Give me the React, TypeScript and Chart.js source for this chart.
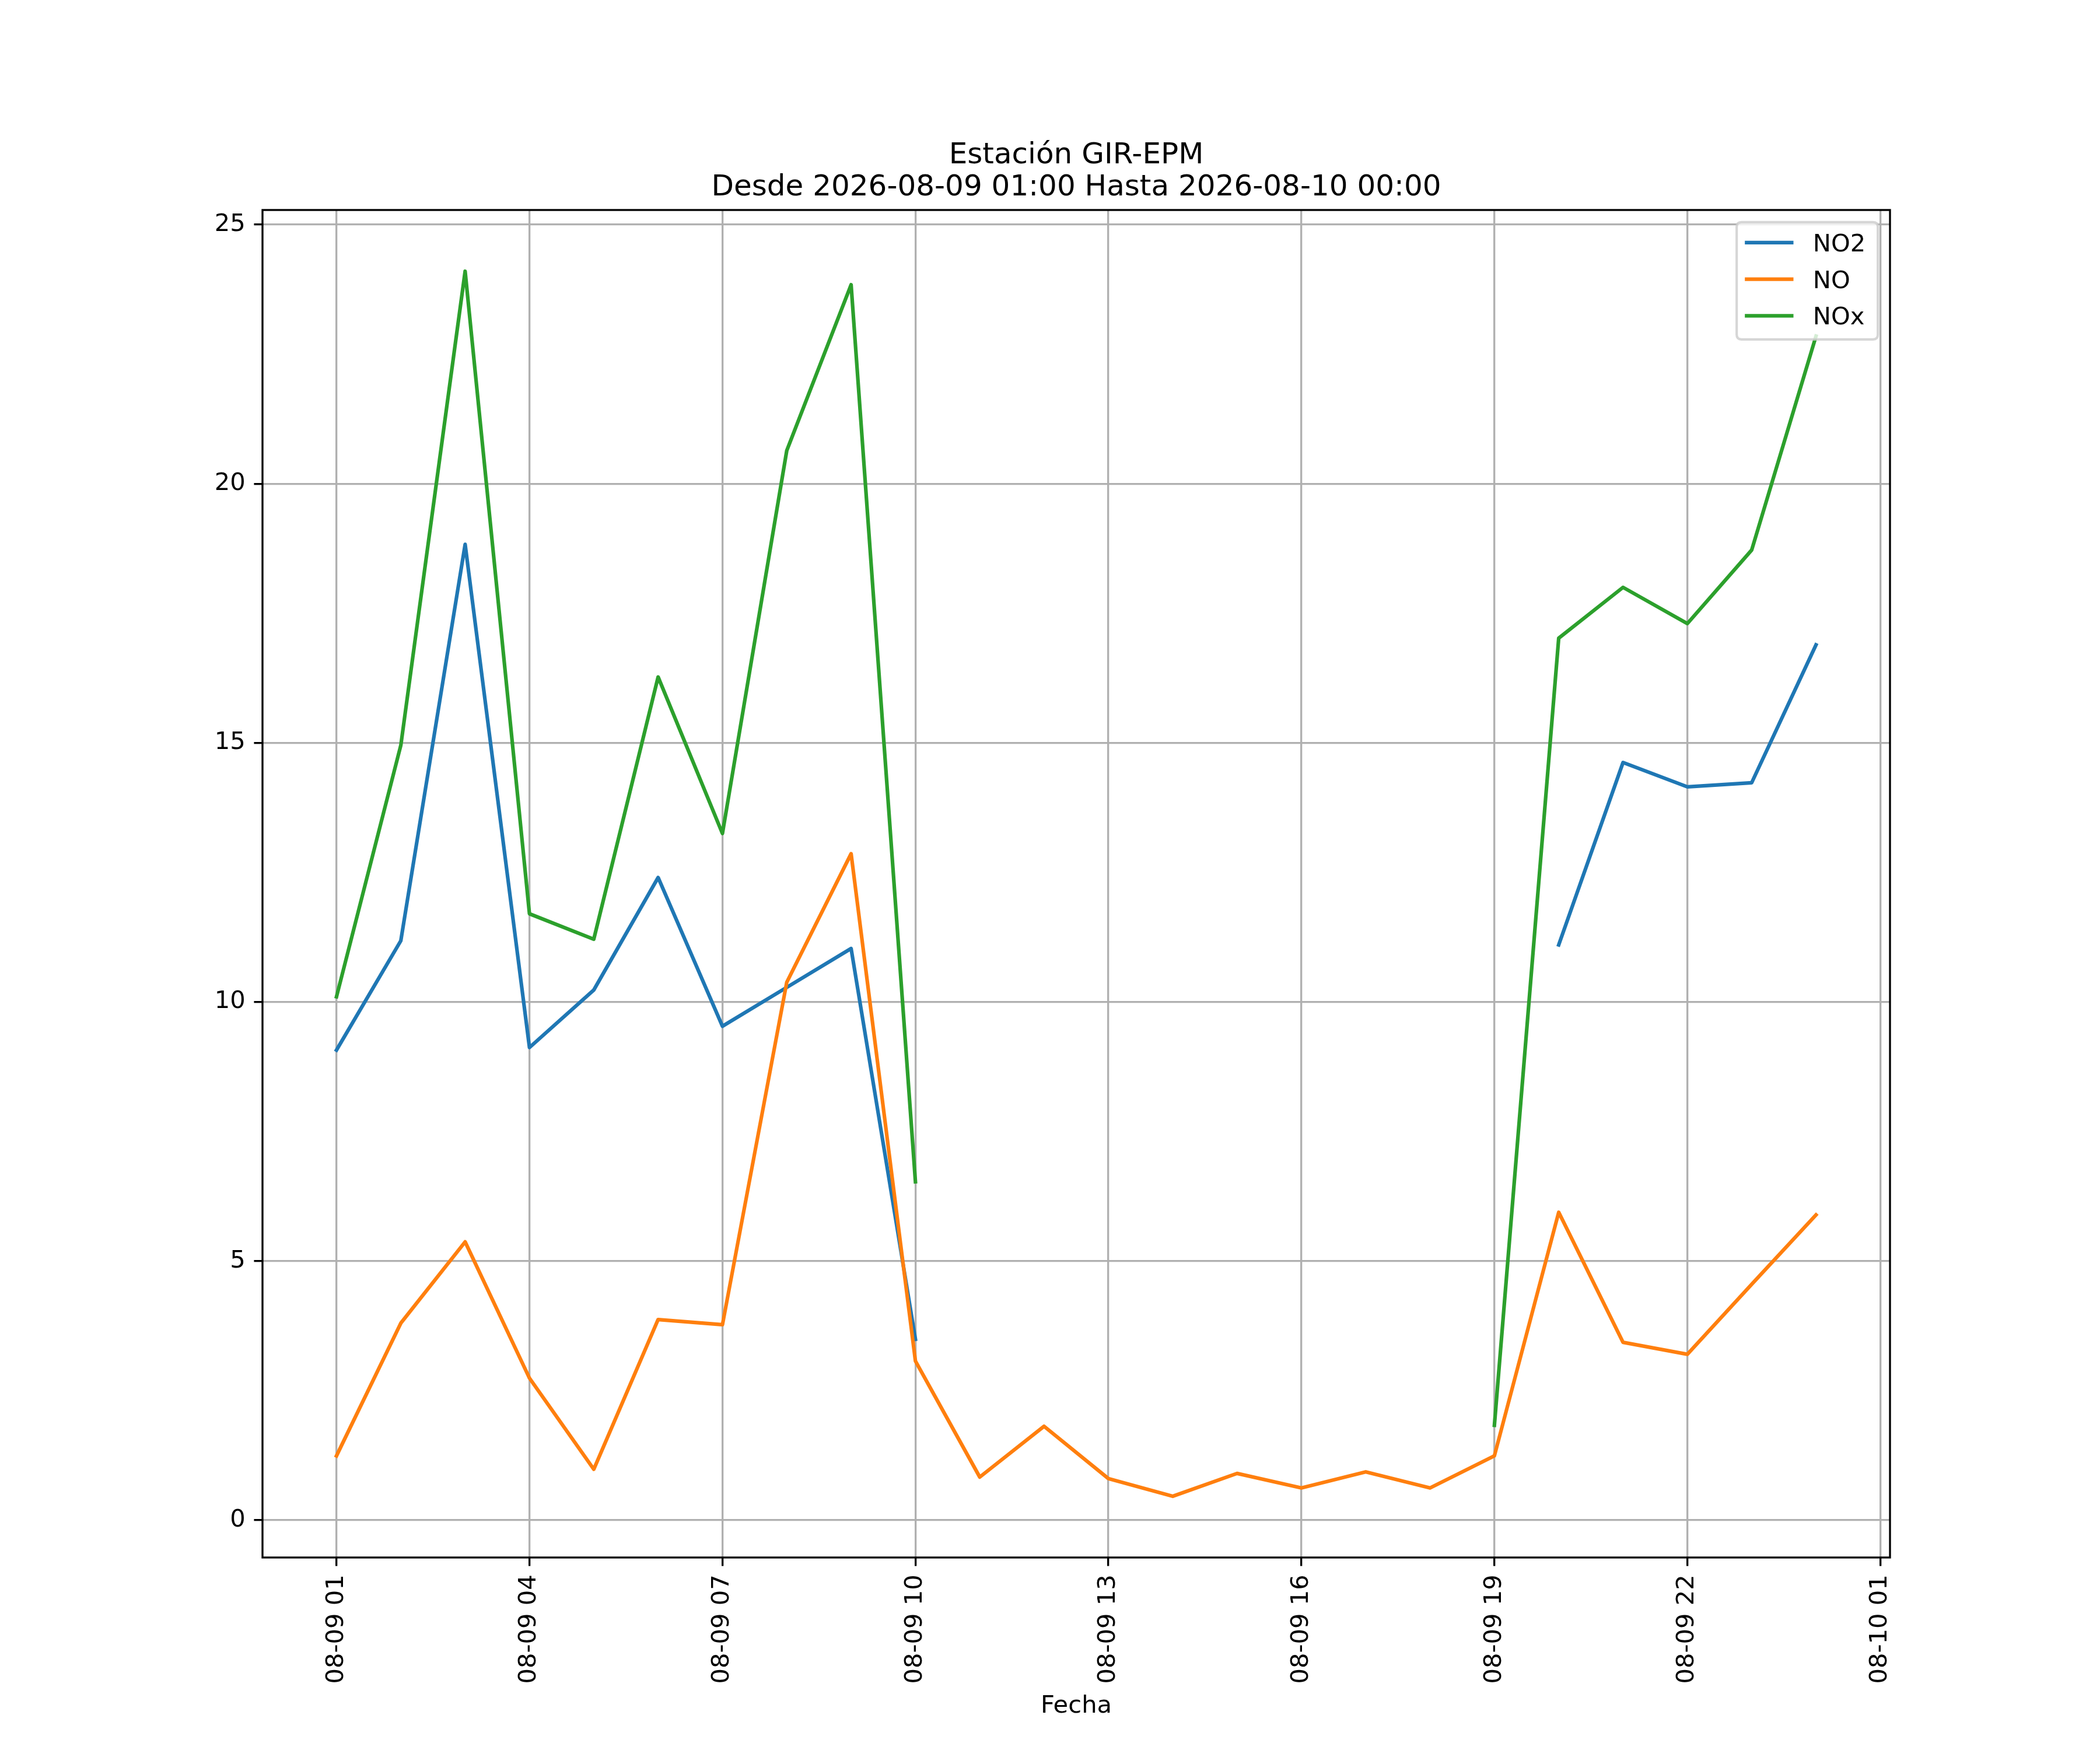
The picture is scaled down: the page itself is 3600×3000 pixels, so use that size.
import React, { useEffect, useRef } from 'react';
import { Chart, registerables } from 'chart.js';

Chart.register(...registerables);

// hourly readings, 2026-08-09 01:00 .. 2026-08-10 00:00
const hours = [
  '08-09 01', '08-09 02', '08-09 03', '08-09 04', '08-09 05', '08-09 06',
  '08-09 07', '08-09 08', '08-09 09', '08-09 10', '08-09 11', '08-09 12',
  '08-09 13', '08-09 14', '08-09 15', '08-09 16', '08-09 17', '08-09 18',
  '08-09 19', '08-09 20', '08-09 21', '08-09 22', '08-09 23', '08-10 00',
];

const no2 = [
  9.07, 11.18, 18.83, 9.12, 10.23, 12.4, 9.53, 10.28, 11.03, 3.49,
  null, null, null, null, null, null, null, null, null,
  11.1, 14.62, 14.15, 14.23, 16.89,
];

const no = [
  1.24, 3.8, 5.37, 2.74, 0.98, 3.87, 3.77, 10.38, 12.86, 3.07,
  0.83, 1.81, 0.8, 0.46, 0.9, 0.62, 0.93, 0.62, 1.24,
  5.94, 3.43, 3.2, 4.55, 5.89,
];

const nox = [
  10.1, 14.95, 24.1, 11.7, 11.21, 16.27, 13.25, 20.64, 23.84, 6.53,
  null, null, null, null, null, null, null, null,
  1.83, 17.02, 18.0, 17.3, 18.72, 22.85,
];

const seriesNames = ['NO2', 'NO', 'NOx'];
const seriesColors = ['#1f77b4', '#ff7f0e', '#2ca02c'];

const xTickValues = [0, 3, 6, 9, 12, 15, 18, 21, 24];
const xTickLabels = [
  '08-09 01', '08-09 04', '08-09 07', '08-09 10', '08-09 13',
  '08-09 16', '08-09 19', '08-09 22', '08-10 01',
];
const yTickValues = [0, 5, 10, 15, 20, 25];

const titleLines = ['Estación GIR-EPM', 'Desde 2026-08-09 01:00 Hasta 2026-08-10 00:00'];
const xTitle = 'Fecha';

// 300 dpi figure: 1pt = 300/72 px
const PT = 300 / 72;
const FONT = 'DejaVu Sans';

const framePlugin = {
  id: 'frame',
  afterDatasetsDraw(chart: any) {
    const { ctx, chartArea: a } = chart;
    ctx.save();
    ctx.strokeStyle = '#000';
    ctx.lineWidth = 0.8 * PT;
    ctx.strokeRect(a.left, a.top, a.right - a.left, a.bottom - a.top);
    ctx.restore();
  },
  afterDraw(chart: any) {
    const { ctx, chartArea: a } = chart;
    ctx.save();
    // title
    ctx.fillStyle = '#000';
    ctx.font = `${12 * PT}px "${FONT}"`;
    ctx.textAlign = 'center';
    ctx.textBaseline = 'alphabetic';
    const cx = (a.left + a.right) / 2;
    ctx.fillText(titleLines[0], cx, a.top - 6 * PT - 55);
    ctx.fillText(titleLines[1], cx, a.top - 6 * PT);

    // legend (upper right)
    const fs = 10 * PT;
    const pad = 0.5 * fs;
    const boxW = 242;
    const boxH = 201;
    const bx = a.right - pad - boxW;
    const by = a.top + pad;
    const r = 0.2 * fs;
    ctx.beginPath();
    ctx.moveTo(bx + r, by);
    ctx.lineTo(bx + boxW - r, by);
    ctx.quadraticCurveTo(bx + boxW, by, bx + boxW, by + r);
    ctx.lineTo(bx + boxW, by + boxH - r);
    ctx.quadraticCurveTo(bx + boxW, by + boxH, bx + boxW - r, by + boxH);
    ctx.lineTo(bx + r, by + boxH);
    ctx.quadraticCurveTo(bx, by + boxH, bx, by + boxH - r);
    ctx.lineTo(bx, by + r);
    ctx.quadraticCurveTo(bx, by, bx + r, by);
    ctx.closePath();
    ctx.fillStyle = 'rgba(255,255,255,0.8)';
    ctx.fill();
    ctx.strokeStyle = 'rgba(204,204,204,0.8)';
    ctx.lineWidth = 1 * PT;
    ctx.stroke();

    ctx.font = `${fs}px "${FONT}"`;
    ctx.textAlign = 'left';
    seriesNames.forEach((name, i) => {
      const y = by + 35 + i * 62.8;
      ctx.strokeStyle = seriesColors[i];
      ctx.lineWidth = 1.5 * PT;
      ctx.beginPath();
      ctx.moveTo(bx + 14, y);
      ctx.lineTo(bx + 14 + 2 * fs, y);
      ctx.stroke();
      ctx.fillStyle = '#000';
      ctx.fillText(name, bx + 14 + 2.8 * fs, y + 15);
    });
    ctx.restore();
  },
};

const App: React.FC = () => {
  const chartRef = useRef<HTMLCanvasElement>(null);
  const chartInstance = useRef<Chart | null>(null);

  useEffect(() => {
    if (!chartRef.current) return;
    if (chartInstance.current) chartInstance.current.destroy();

    const all = [...no2, ...no, ...nox].filter((v): v is number => v !== null);
    const yMinData = Math.min(...all);
    const yMaxData = Math.max(...all);
    const yMargin = (yMaxData - yMinData) * 0.05;
    const xMargin = (hours.length - 1) * 0.05;

    const series = [no2, no, nox];

    chartInstance.current = new Chart(chartRef.current, {
      type: 'line',
      data: {
        datasets: series.map((vals, i) => ({
          label: seriesNames[i],
          data: vals.map((v, j) => ({ x: j, y: v })),
          borderColor: seriesColors[i],
          backgroundColor: seriesColors[i],
          borderWidth: 1.5 * PT,
          borderJoinStyle: 'round' as const,
          borderCapStyle: 'square' as const,
          pointRadius: 0,
          tension: 0,
          spanGaps: false,
          order: 3 - i,
        })),
      },
      options: {
        responsive: false,
        devicePixelRatio: 1,
        animation: false,
        layout: { padding: { left: 0, right: 360, top: 360, bottom: 0 } },
        plugins: {
          legend: { display: false },
          title: { display: false },
          tooltip: { enabled: false },
        },
        scales: {
          x: {
            type: 'linear',
            min: -xMargin,
            max: hours.length - 1 + xMargin,
            afterFit: (scale: any) => { scale.height = 330; },
            afterBuildTicks: (scale: any) => {
              scale.ticks = xTickValues.map((v) => ({ value: v }));
            },
            ticks: {
              autoSkip: false,
              minRotation: 90,
              maxRotation: 90,
              padding: 3.5 * PT,
              color: '#000',
              font: { family: FONT, size: 10 * PT },
              callback: (v: any) => xTickLabels[xTickValues.indexOf(Number(v))] ?? '',
            },
            grid: {
              color: '#b0b0b0',
              lineWidth: 0.8 * PT,
              tickColor: '#000',
              tickLength: 3.5 * PT,
              tickWidth: 0.8 * PT,
            },
            border: { display: false },
            title: {
              display: true,
              text: xTitle,
              color: '#000',
              font: { family: FONT, size: 10 * PT },
              padding: { top: 0, bottom: 50 },
            },
          },
          y: {
            type: 'linear',
            min: yMinData - yMargin,
            max: yMaxData + yMargin,
            afterFit: (scale: any) => { scale.width = 450; },
            afterBuildTicks: (scale: any) => {
              scale.ticks = yTickValues.map((v) => ({ value: v }));
            },
            ticks: {
              padding: 3.5 * PT,
              color: '#000',
              font: { family: FONT, size: 10 * PT },
              callback: (v: any) => String(v),
            },
            grid: {
              color: '#b0b0b0',
              lineWidth: 0.8 * PT,
              tickColor: '#000',
              tickLength: 3.5 * PT,
              tickWidth: 0.8 * PT,
            },
            border: { display: false },
          },
        },
      },
      plugins: [framePlugin],
    });

    return () => {
      if (chartInstance.current) {
        chartInstance.current.destroy();
        chartInstance.current = null;
      }
    };
  }, []);

  return (
    <div style={{ position: 'absolute', left: 0, top: 0, width: 3600, height: 3000, background: '#fff' }}>
      <canvas ref={chartRef} width={3600} height={3000} style={{ width: 3600, height: 3000 }} />
    </div>
  );
};

export default App;
